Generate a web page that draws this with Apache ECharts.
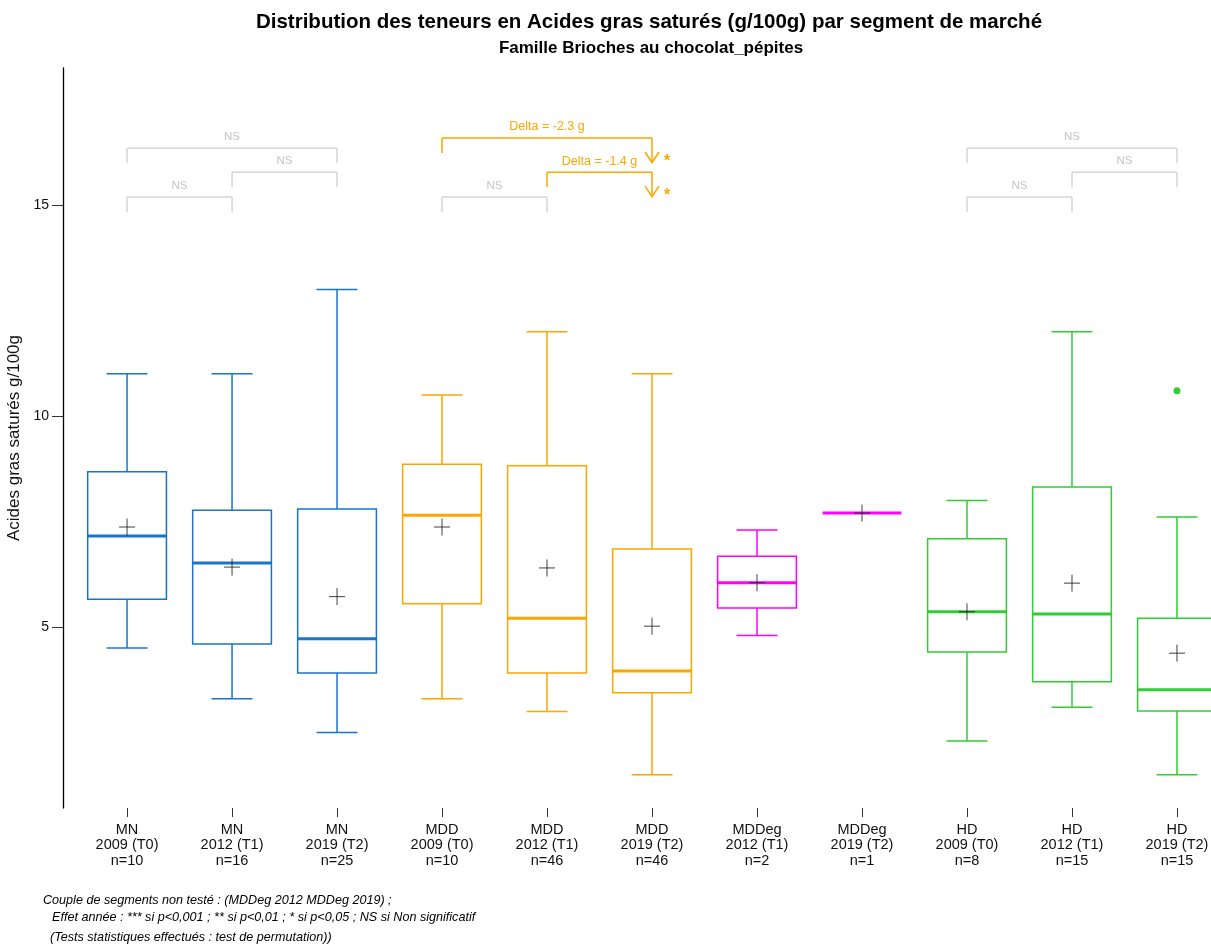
<!DOCTYPE html>
<html>
<head>
<meta charset="utf-8">
<script src="https://cdn.jsdelivr.net/npm/echarts@6/dist/echarts.min.js"></script>
<style>
html,body{margin:0;padding:0;background:#fff;}
#chart{width:1211px;height:945px;}
</style>
</head>
<body>
<div id="chart"></div>
<script>
// ---- Data ----
const groups  = ["MN","MN","MN","MDD","MDD","MDD","MDDeg","MDDeg","HD","HD","HD"];
const periods = ["2009 (T0)","2012 (T1)","2019 (T2)","2009 (T0)","2012 (T1)","2019 (T2)","2012 (T1)","2019 (T2)","2009 (T0)","2012 (T1)","2019 (T2)"];
const counts  = [10,16,25,10,46,46,2,1,8,15,15];
const lows    = [4.5, 3.3, 2.5, 3.3, 3.0, 1.5, 4.8, 7.7, 2.3, 3.1, 1.5];
const q1s     = [5.66,4.6, 3.91,5.55,3.91,3.44,5.45,7.7, 4.41,3.70,3.01];
const medians = [7.16,6.52,4.72,7.65,5.21,3.96,6.05,7.7, 5.36,5.31,3.51];
const q3s     = [8.68,7.77,7.80,8.86,8.82,6.85,6.68,7.7, 7.09,8.32,5.21];
const highs   = [11.0,11.0,13.0,10.5,12.0,11.0,7.3, 7.7, 8.0, 12.0,7.61];
const means   = [7.37,6.42,5.72,7.37,6.40,5.02,6.05,7.7, 5.36,6.04,4.38];
const outliers = [[10, 10.6]];
const yTicks = [5, 10, 15];

// significance brackets
const bracketFrom  = [0, 1, 0, 3, 4, 3, 8, 9, 8];
const bracketTo    = [1, 2, 2, 4, 5, 5, 9, 10, 10];
const bracketLevel = [15.19, 15.78, 16.35, 15.19, 15.78, 16.59, 15.19, 15.78, 16.35];
const bracketLabel = ["NS","NS","NS","NS","Delta = -1.4 g","Delta = -2.3 g","NS","NS","NS"];
const bracketSig   = ["NS","NS","NS","NS","*","*","NS","NS","NS"];

const groupColor = {MN:"#1874CD", MDD:"#FFA500", MDDeg:"#FF00FF", HD:"#32CD32"};
const FONT = "'Liberation Sans', Arial, sans-serif";

const boxData = groups.map((g, i) => [i, lows[i], q1s[i], medians[i], q3s[i], highs[i], means[i]]);
const bracketData = bracketFrom.map((f, i) => [f, bracketTo[i], bracketLevel[i], i]);
const idxList = groups.map((g, i) => i);

function renderBox(params, api) {
  const i = api.value(0);
  const lo = api.value(1), q1 = api.value(2), med = api.value(3), q3 = api.value(4), hi = api.value(5), mean = api.value(6);
  const color = groupColor[groups[i]];
  const halfW = api.size([0.75, 0])[0] / 2;
  const capHalf = api.size([0.39, 0])[0] / 2;
  const cx = api.coord([i, med])[0];
  const y = v => api.coord([i, v])[1];
  const ls = {stroke: color, lineWidth: 1.5};
  const children = [];
  if (hi > q3) {
    children.push({type:'line', shape:{x1:cx, y1:y(hi), x2:cx, y2:y(q3)}, style:ls});
    children.push({type:'line', shape:{x1:cx-capHalf, y1:y(hi), x2:cx+capHalf, y2:y(hi)}, style:ls});
  }
  if (lo < q1) {
    children.push({type:'line', shape:{x1:cx, y1:y(q1), x2:cx, y2:y(lo)}, style:ls});
    children.push({type:'line', shape:{x1:cx-capHalf, y1:y(lo), x2:cx+capHalf, y2:y(lo)}, style:ls});
  }
  if (q3 > q1) {
    children.push({type:'rect', shape:{x:cx-halfW, y:y(q3), width:2*halfW, height:y(q1)-y(q3)},
      style:{fill:null, stroke:color, lineWidth:1.5}});
  }
  children.push({type:'line', shape:{x1:cx-halfW, y1:y(med), x2:cx+halfW, y2:y(med)}, style:{stroke:color, lineWidth:3}});
  const my = y(mean);
  const pc = 'rgba(30,30,30,0.85)';
  children.push({type:'line', shape:{x1:cx-8, y1:my, x2:cx+8, y2:my}, style:{stroke:pc, lineWidth:1}});
  children.push({type:'line', shape:{x1:cx, y1:my-8.5, x2:cx, y2:my+8.5}, style:{stroke:pc, lineWidth:1}});
  return {type:'group', children};
}

function renderBracket(params, api) {
  const f = api.value(0), t = api.value(1), lvl = api.value(2), k = api.value(3);
  const sig = bracketSig[k] !== "NS";
  const color = sig ? "#FFA500" : "#D6D6D6";
  const p1 = api.coord([f, lvl]), p2 = api.coord([t, lvl]);
  const ls = {stroke: color, lineWidth: 1.5};
  const ch = [];
  ch.push({type:'line', shape:{x1:p1[0], y1:p1[1], x2:p2[0], y2:p2[1]}, style:ls});
  ch.push({type:'line', shape:{x1:p1[0], y1:p1[1], x2:p1[0], y2:p1[1]+15}, style:ls});
  if (sig) {
    const b = p2[1] + 24.5;
    ch.push({type:'line', shape:{x1:p2[0], y1:p2[1], x2:p2[0], y2:b}, style:ls});
    ch.push({type:'polyline', shape:{points:[[p2[0]-7, b-10.5],[p2[0], b],[p2[0]+7, b-10.5]]}, style:{stroke:color, lineWidth:1.5, fill:null}});
    ch.push({type:'text', x:p2[0]+15, y:b-1, style:{text:'*', fill:color, font:"bold 16px " + FONT, align:'center', verticalAlign:'middle'}});
  } else {
    ch.push({type:'line', shape:{x1:p2[0], y1:p2[1], x2:p2[0], y2:p2[1]+15}, style:ls});
  }
  ch.push({type:'text', x:(p1[0]+p2[0])/2, y:p1[1]-11, style:{text:bracketLabel[k],
    fill: sig ? "#FFA500" : "#C4C4C4", font:(sig ? "12.5px " : "11.5px ") + FONT, align:'center', verticalAlign:'middle'}});
  return {type:'group', children: ch};
}

const chart = echarts.init(document.getElementById('chart'));
chart.setOption({
  animation: false,
  backgroundColor: '#fff',
  grid: {left: 63, right: 0, top: 68, bottom: 137, containLabel: false, outerBoundsMode: 'none'},
  xAxis: {
    type: 'value', min: -0.61, max: 10.324,
    splitLine: {show: false},
    axisLine: {show: false, onZero: false},
    axisTick: {show: true, customValues: idxList, length: 9, lineStyle: {color: '#333', width: 1}},
    axisLabel: {
      customValues: idxList, margin: 14, color: '#111', fontSize: 14.5, fontFamily: FONT, lineHeight: 15.5,
      formatter: v => { const i = Math.round(v); return groups[i] + "\n" + periods[i] + "\nn=" + counts[i]; }
    }
  },
  yAxis: {
    type: 'value', min: 0.71, max: 18.25,
    name: 'Acides gras saturés g/100g', nameLocation: 'middle', nameGap: 34,
    nameTextStyle: {fontSize: 17, color: '#111', fontFamily: FONT},
    splitLine: {show: false},
    axisLine: {show: true, onZero: false, lineStyle: {color: '#000', width: 1.3}},
    axisTick: {show: true, customValues: yTicks, length: 11, lineStyle: {color: '#333', width: 1}},
    axisLabel: {customValues: yTicks, margin: 14, fontSize: 14, color: '#111', fontFamily: FONT}
  },
  graphic: [
    {type:'text', x: 649, y: 22, style:{text:'Distribution des teneurs en Acides gras saturés (g/100g) par segment de marché',
      font:"bold 20.5px " + FONT, fill:'#000', align:'center', verticalAlign:'middle'}},
    {type:'text', x: 651, y: 48, style:{text:'Famille Brioches au chocolat_pépites',
      font:"bold 17px " + FONT, fill:'#000', align:'center', verticalAlign:'middle'}},
    {type:'text', x: 43, y: 900, style:{text:'Couple de segments non testé : (MDDeg 2012 MDDeg 2019) ;',
      font:"italic 12.6px " + FONT, fill:'#000', align:'left', verticalAlign:'middle'}},
    {type:'text', x: 52, y: 917, style:{text:'Effet année : *** si p<0,001 ; ** si p<0,01 ; * si p<0,05 ; NS si Non significatif',
      font:"italic 12.6px " + FONT, fill:'#000', align:'left', verticalAlign:'middle'}},
    {type:'text', x: 50, y: 937, style:{text:'(Tests statistiques effectués : test de permutation))',
      font:"italic 12.6px " + FONT, fill:'#000', align:'left', verticalAlign:'middle'}}
  ],
  series: [
    {type:'custom', renderItem: renderBox, data: boxData, clip: false, encode:{x:0, y:[1,5]}, z: 2},
    {type:'custom', renderItem: renderBracket, data: bracketData, clip: false, encode:{x:[0,1], y:2}, z: 3},
    {type:'scatter', data: outliers, symbol:'circle', symbolSize: 7, itemStyle:{color:'#32CD32', opacity: 1}, z: 4}
  ]
});
</script>
</body>
</html>
